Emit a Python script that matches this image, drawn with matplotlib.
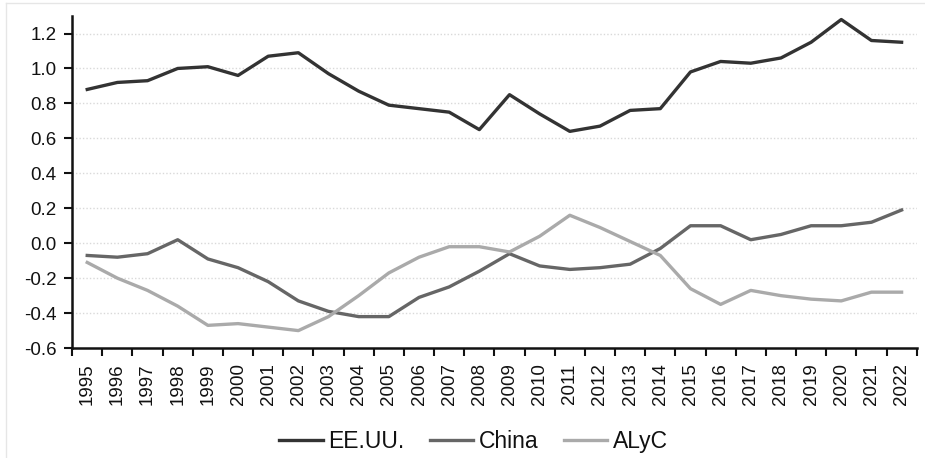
import matplotlib
matplotlib.use("Agg")
import matplotlib.pyplot as plt
from matplotlib.lines import Line2D
import numpy as np

years = [str(y) for y in range(1995, 2023)]
eeuu = [0.88, 0.92, 0.93, 1.00, 1.01, 0.96, 1.07, 1.09, 0.97, 0.87, 0.79, 0.77, 0.75, 0.65,
        0.85, 0.74, 0.64, 0.67, 0.76, 0.77, 0.98, 1.04, 1.03, 1.06, 1.15, 1.28, 1.16, 1.15]
china = [-0.07, -0.08, -0.06, 0.02, -0.09, -0.14, -0.22, -0.33, -0.39, -0.42, -0.42, -0.31, -0.25, -0.16,
         -0.06, -0.13, -0.15, -0.14, -0.12, -0.03, 0.10, 0.10, 0.02, 0.05, 0.10, 0.10, 0.12, 0.19]
alyc = [-0.11, -0.20, -0.27, -0.36, -0.47, -0.46, -0.48, -0.50, -0.42, -0.30, -0.17, -0.08, -0.02, -0.02,
        -0.05, 0.04, 0.16, 0.09, 0.01, -0.07, -0.26, -0.35, -0.27, -0.30, -0.32, -0.33, -0.28, -0.28]
series = [("EE.UU.", eeuu, "#333333"), ("China", china, "#666666"), ("ALyC", alyc, "#aaaaaa")]
yticks = [-0.6, -0.4, -0.2, 0.0, 0.2, 0.4, 0.6, 0.8, 1.0, 1.2]

plt.rcParams['font.family'] = ['Liberation Sans', 'DejaVu Sans']
fig = plt.figure(figsize=(9.25, 4.58), dpi=100)
ax = fig.add_axes([0.078, 0.240, 0.913, 0.725])
x = np.arange(len(years))
for name, vals, col in series:
    ax.plot(x, vals, color=col, lw=2.4, label=name, solid_joinstyle='round')

ax.set_xlim(-0.5, len(years) - 0.5)
ax.set_ylim(-0.6, 1.3)
ax.set_yticks(yticks)
ax.set_yticklabels([f"{v:.1f}" for v in yticks], fontsize=13.5, color='#111111')
for v in yticks[1:]:
    ax.axhline(v, color="#d9d9d9", lw=1.0, ls=(0, (1, 1.5)), zorder=0)
ax.set_xticks(x)
ax.set_xticklabels(years, rotation=90, fontsize=13.5, color='#111111')
ax.set_xticks(np.arange(-0.5, len(years), 1), minor=True)
ax.tick_params(axis='x', which='major', length=0, pad=11)
ax.tick_params(axis='x', which='minor', length=6, width=1.5, direction='out', color='#111111')
ax.tick_params(axis='y', length=6, width=1.5, direction='out', color='#111111', pad=5)
for s in ['top', 'right']:
    ax.spines[s].set_visible(False)
for s in ['left', 'bottom']:
    ax.spines[s].set_linewidth(1.8)
    ax.spines[s].set_color('#111111')

handles = [Line2D([0], [0], color=c, lw=2.4) for _, _, c in series]
fig.legend(handles, [n for n, _, _ in series], loc='center', bbox_to_anchor=(0.512, 0.037),
           ncol=3, frameon=False, fontsize=16.5, handlelength=1.9, handletextpad=0.25,
           columnspacing=1.1, borderpad=0, labelcolor='#111111')

# light outer frame
fig.add_artist(Line2D([0.006, 0.006], [0.0, 0.993], transform=fig.transFigure, color="#e6e6e6", lw=1))
fig.add_artist(Line2D([0.006, 1.0], [0.993, 0.993], transform=fig.transFigure, color="#e6e6e6", lw=1))

fig.savefig("out.png", dpi=100)
